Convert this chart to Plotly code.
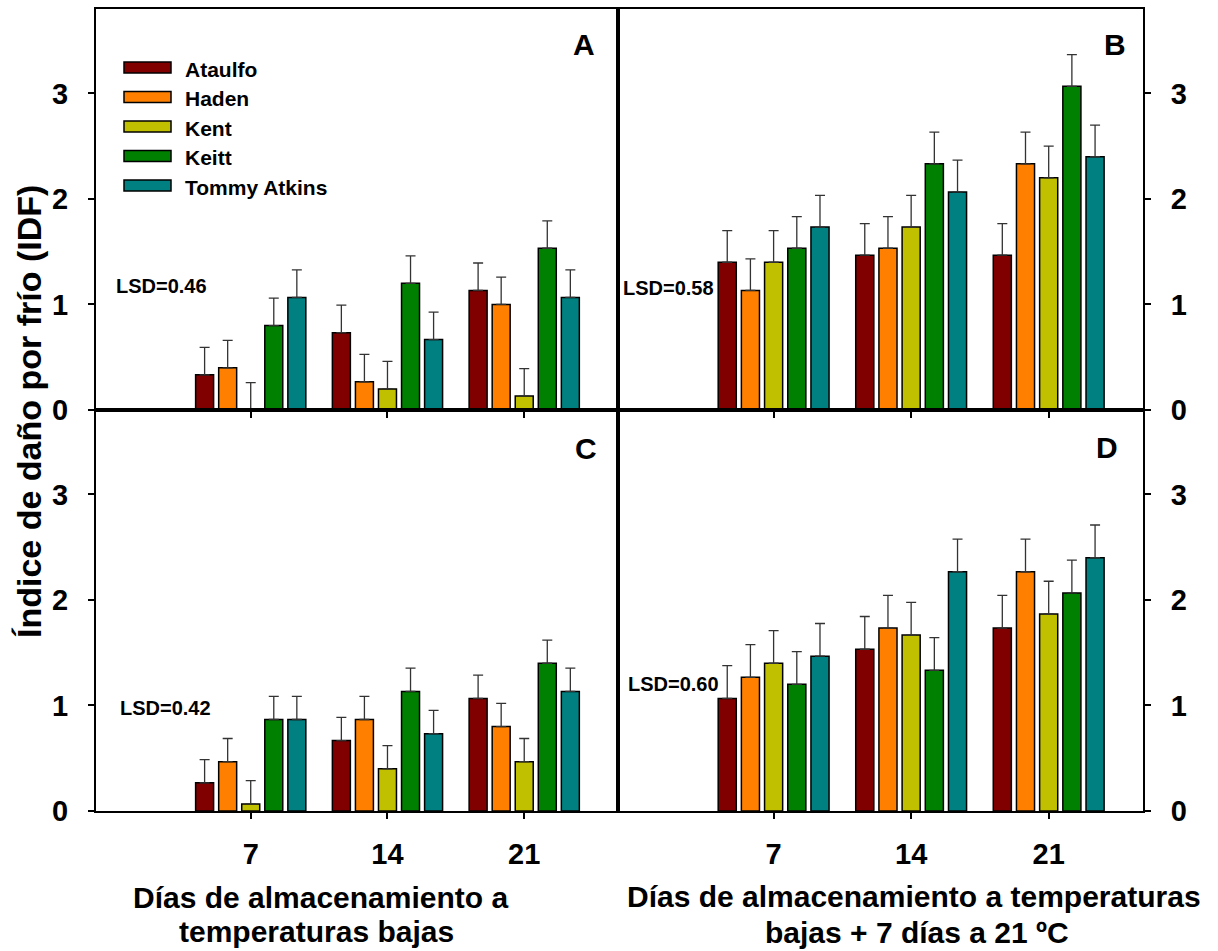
import plotly.graph_objects as go

# ---------------- data ----------------
days = [7, 14, 21]
cultivars = ["Ataulfo", "Haden", "Kent", "Keitt", "Tommy Atkins"]
colors = ["#800000", "#FF8000", "#C0C000", "#008000", "#008080"]

# Panel A: low temperature storage (rows = cultivars, cols = days)
panel_a = [
    [0.333, 0.733, 1.133],
    [0.400, 0.267, 1.000],
    [0.000, 0.200, 0.133],
    [0.800, 1.200, 1.533],
    [1.067, 0.667, 1.067],
]
# Panel B: low temperature + 7 d at 21 C
panel_b = [
    [1.400, 1.467, 1.467],
    [1.133, 1.533, 2.333],
    [1.400, 1.733, 2.200],
    [1.533, 2.333, 3.067],
    [1.733, 2.067, 2.400],
]
# Panel C
panel_c = [
    [0.267, 0.667, 1.067],
    [0.467, 0.867, 0.800],
    [0.067, 0.400, 0.467],
    [0.867, 1.133, 1.400],
    [0.867, 0.733, 1.133],
]
# Panel D
panel_d = [
    [1.067, 1.533, 1.733],
    [1.267, 1.733, 2.267],
    [1.400, 1.667, 1.867],
    [1.200, 1.333, 2.067],
    [1.467, 2.267, 2.400],
]
err_a = 0.26
err_b = 0.30
err_c = 0.22
err_d = 0.31

panel_letters = ["A", "B", "C", "D"]
lsd_labels = ["LSD=0.46", "LSD=0.58", "LSD=0.42", "LSD=0.60"]
ytick_vals = [0, 1, 2, 3]

# ---------------- layout helpers ----------------
W = 1218
SCREEN_H = 951
H = 967  # figure height
FONT = "Liberation Sans, Arial, sans-serif"


def px(x):
    return x / W


def py(y):
    # y given in target-picture pixels (0 = top)
    return 1 - y / SCREEN_H


fig = go.Figure()

panels = [panel_a, panel_b, panel_c, panel_d]
errs = [err_a, err_b, err_c, err_d]
for p, (vals, err) in enumerate(zip(panels, errs)):
    sfx = "" if p == 0 else str(p + 1)
    for i, name in enumerate(cultivars):
        fig.add_trace(go.Bar(
            x=days, y=vals[i], name=name,
            marker=dict(color=colors[i], line=dict(color="black", width=1.5)),
            error_y=dict(type="constant", value=err, valueminus=0, symmetric=False,
                         color="#333333", thickness=1.3, width=5),
            xaxis="x" + sfx, yaxis="y" + sfx, showlegend=False,
            offsetgroup=str(i),
        ))

xdom_l = [px(96), px(618)]
xdom_r = [px(618), px(1143)]
ydom_t = [py(410), py(9)]
ydom_b = [py(811), py(410)]

xr = [-0.92, 25.8]
yr = [0, 3.8]

common_x = dict(range=xr, tickvals=days, ticktext=[str(d) for d in days],
                showline=True, mirror=True, linecolor="black", linewidth=2,
                ticks="outside", ticklen=6, tickwidth=2, tickcolor="black",
                showgrid=False, zeroline=False,
                tickfont=dict(family=FONT, size=29, color="black", weight="bold"))
common_y = dict(range=yr, tickvals=ytick_vals,
                showline=True, mirror=True, linecolor="black", linewidth=2,
                ticks="outside", ticklen=6, tickwidth=2, tickcolor="black",
                showgrid=False, zeroline=False, ticklabelstandoff=14,
                tickfont=dict(family=FONT, size=29, color="black", weight="bold"))

fig.update_layout(
    width=W, height=H,
    margin=dict(l=0, r=0, t=0, b=0),
    paper_bgcolor="white", plot_bgcolor="white",
    barmode="group", bargap=0.157, bargroupgap=0.22,
    font=dict(family=FONT, color="black"),
    xaxis=dict(common_x, domain=xdom_l, anchor="y", showticklabels=False),
    yaxis=dict(common_y, domain=ydom_t, anchor="x", side="left"),
    xaxis2=dict(common_x, domain=xdom_r, anchor="y2", showticklabels=False),
    yaxis2=dict(common_y, domain=ydom_t, anchor="x2", side="right"),
    xaxis3=dict(common_x, domain=xdom_l, anchor="y3", ticklabelstandoff=10),
    yaxis3=dict(common_y, domain=ydom_b, anchor="x3", side="left"),
    xaxis4=dict(common_x, domain=xdom_r, anchor="y4", ticklabelstandoff=10),
    yaxis4=dict(common_y, domain=ydom_b, anchor="x4", side="right"),
)

annotations = []
shapes = []

# panel letters
letter_pos = [(584, 44), (1115, 44), (586, 449), (1107, 448)]
for t, (x, y) in zip(panel_letters, letter_pos):
    annotations.append(dict(text=t, x=px(x), y=py(y), xref="paper", yref="paper",
                            showarrow=False, xanchor="center", yanchor="middle",
                            font=dict(family=FONT, size=30, color="black", weight="bold")))

# LSD labels
lsd_pos = [(161, 286), (668, 288), (165, 708), (673, 684)]
for t, (x, y) in zip(lsd_labels, lsd_pos):
    annotations.append(dict(text=t, x=px(x), y=py(y), xref="paper", yref="paper",
                            showarrow=False, xanchor="center", yanchor="middle",
                            font=dict(family=FONT, size=20, color="black", weight="bold")))

# legend (drawn manually)
leg_y = [67.5, 97, 126.5, 156, 185.5]
for name, col, yc in zip(cultivars, colors, leg_y):
    shapes.append(dict(type="rect", xref="paper", yref="paper",
                       x0=px(124), x1=px(171), y0=py(yc + 5.5), y1=py(yc - 5.5),
                       fillcolor=col, line=dict(color="black", width=1.5)))
    annotations.append(dict(text=name, x=px(183), y=py(yc + 1.5), xref="paper", yref="paper",
                            showarrow=False, xanchor="left", yanchor="middle",
                            font=dict(family=FONT, size=21, color="black", weight="bold")))

# axis titles
title_font = dict(family=FONT, size=30, color="black", weight="bold")
for text, x, y in [("Días de almacenamiento a", 320, 897),
                   ("temperaturas bajas", 316, 931),
                   ("Días de almacenamiento a temperaturas", 914, 896),
                   ("bajas + 7 días a 21 ºC", 917, 932)]:
    annotations.append(dict(text=text, x=px(x), y=py(y), xref="paper", yref="paper",
                            showarrow=False, xanchor="center", yanchor="middle",
                            font=title_font))

annotations.append(dict(text="Índice de daño por frío (IDF)", x=px(29), y=py(412),
                        xref="paper", yref="paper", showarrow=False, textangle=-90,
                        xanchor="center", yanchor="middle",
                        font=dict(family=FONT, size=34, color="black", weight="bold")))

fig.update_layout(annotations=annotations, shapes=shapes)

reset_js = (
    "var s=document.createElement('style');"
    "s.innerHTML='html,body{margin:0!important;padding:0!important;overflow:hidden!important;}';"
    "document.head.appendChild(s);"
)

fig.write_html("out.html", config={"displayModeBar": False}, post_script=reset_js)
